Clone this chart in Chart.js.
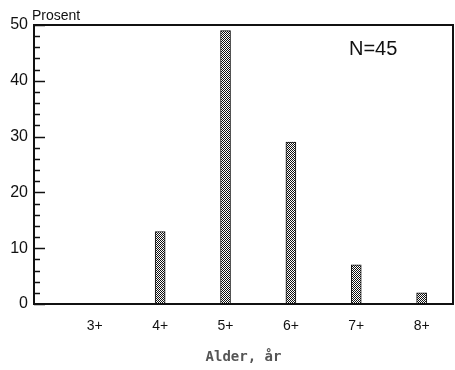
<!DOCTYPE html>
<html>
<head>
<meta charset="utf-8">
<script src="https://cdn.jsdelivr.net/npm/chart.js@4/dist/chart.umd.min.js"></script>
<style>
  html, body { margin: 0; padding: 0; background: #fff; }
  #wrap { width: 455px; height: 370px; }
</style>
</head>
<body>
<div id="wrap"><canvas id="c" width="455" height="370"></canvas></div>
<script>
const ageLabels = ['3+', '4+', '5+', '6+', '7+', '8+'];
const agePositions = [1, 2, 3, 4, 5, 6];
const percentValues = [0, 13, 49, 29, 7, 2];
const yTicks = [0, 10, 20, 30, 40, 50];

// checkered fill like the old print
function makePattern() {
  const p = document.createElement('canvas');
  p.width = 2; p.height = 2;
  const g = p.getContext('2d');
  g.fillStyle = '#fff';
  g.fillRect(0, 0, 2, 2);
  g.fillStyle = '#111';
  g.fillRect(0, 0, 1, 1);
  g.fillRect(1, 1, 1, 1);
  return g.createPattern(p, 'repeat');
}

// frame + inward ticks on the y axis, plus the extra labels
const framePlugin = {
  id: 'frame',
  afterDraw(chart) {
    const { ctx, chartArea: a, scales: { y } } = chart;
    ctx.save();
    ctx.strokeStyle = '#111';
    ctx.lineWidth = 2;
    ctx.strokeRect(a.left, a.top, a.right - a.left, a.bottom - a.top);
    ctx.lineWidth = 1.5;
    for (let v = 0; v <= 50; v += 2) {
      const py = Math.round(y.getPixelForValue(v)) + 0.5;
      const len = v % 10 === 0 ? 11 : 6;
      ctx.beginPath();
      ctx.moveTo(a.left, py);
      ctx.lineTo(a.left + len, py);
      ctx.stroke();
    }
    ctx.fillStyle = '#111';
    ctx.font = '14px "Liberation Sans", Arial, sans-serif';
    ctx.textAlign = 'left';
    ctx.textBaseline = 'bottom';
    ctx.fillText('Prosent', a.left - 2, a.top - 2);
    ctx.font = '20px "Liberation Sans", Arial, sans-serif';
    ctx.textBaseline = 'middle';
    ctx.fillText('N=45', 349, 49);
    ctx.restore();
  }
};

new Chart(document.getElementById('c'), {
  type: 'bar',
  data: {
    datasets: [{
      data: agePositions.map((x, i) => ({ x: x, y: percentValues[i] })),
      backgroundColor: makePattern(),
      borderColor: '#111',
      borderWidth: 1,
      barThickness: 10
    }]
  },
  options: {
    responsive: false,
    animation: false,
    layout: { padding: { top: 25, right: 2, left: 0, bottom: 0 } },
    plugins: { legend: { display: false }, tooltip: { enabled: false } },
    scales: {
      x: {
        type: 'linear',
        offset: false,
        min: 0.07,
        max: 6.48,
        grid: { display: false, drawTicks: false, offset: false },
        border: { display: false },
        afterBuildTicks: s => { s.ticks = agePositions.map(v => ({ value: v })); },
        ticks: {
          padding: 14,
          color: '#111',
          font: { family: '"Liberation Sans", Arial, sans-serif', size: 14 },
          callback: v => ageLabels[agePositions.indexOf(v)] || ''
        },
        title: {
          display: true,
          text: 'Alder, år',
          color: '#555',
          padding: { top: 12, bottom: 4 },
          font: { family: '"DejaVu Sans Mono", monospace', size: 14, weight: 'bold' }
        },
        afterFit: s => { s.height = 66; }
      },
      y: {
        min: 0,
        max: 50,
        grid: { display: false, drawTicks: false },
        border: { display: false },
        afterBuildTicks: s => { s.ticks = yTicks.map(v => ({ value: v })); },
        ticks: {
          padding: 6,
          color: '#111',
          font: { family: '"Liberation Sans", Arial, sans-serif', size: 16 }
        },
        afterFit: s => { s.width = 34; }
      }
    }
  },
  plugins: [framePlugin]
});
</script>
</body>
</html>
